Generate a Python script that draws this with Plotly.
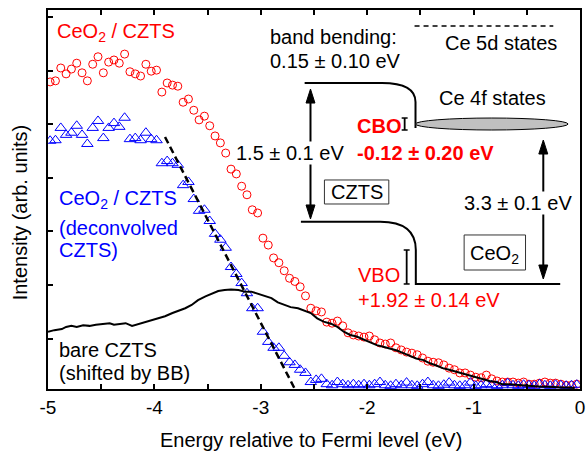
import plotly.graph_objects as go

# ---------------- data ----------------
energy = [-4.98, -4.93, -4.88, -4.83, -4.78, -4.73, -4.68, -4.63, -4.58, -4.53,
          -4.48, -4.43, -4.38, -4.33, -4.28, -4.23, -4.18, -4.13, -4.08, -4.03,
          -3.98, -3.93, -3.88, -3.83, -3.78, -3.73, -3.68, -3.63, -3.58, -3.53,
          -3.48, -3.43, -3.38, -3.33, -3.28, -3.23, -3.18, -3.13, -3.08, -3.03,
          -2.98, -2.93, -2.88, -2.83, -2.78, -2.73, -2.68, -2.63, -2.58, -2.53,
          -2.48, -2.43, -2.38, -2.33, -2.28, -2.23, -2.18, -2.13, -2.08, -2.03,
          -1.98, -1.93, -1.88, -1.83, -1.78, -1.73, -1.68, -1.63, -1.58, -1.53,
          -1.48, -1.43, -1.38, -1.33, -1.28, -1.23, -1.18, -1.13, -1.08, -1.03,
          -0.98, -0.93, -0.88, -0.83, -0.78, -0.73, -0.68, -0.63, -0.58, -0.53,
          -0.48, -0.43, -0.38, -0.33, -0.28, -0.23, -0.18, -0.13, -0.08, -0.03]

ceo2_czts = [5.74, 5.76, 6.00, 5.89, 5.98, 6.09, 5.91, 5.76, 6.07, 6.21,
             5.91, 6.11, 6.15, 6.09, 6.26, 5.93, 5.89, 5.85, 6.07, 5.94,
             5.96, 5.55, 5.72, 5.68, 5.66, 5.36, 5.42, 5.21, 5.03, 5.10,
             4.92, 4.73, 4.60, 4.41, 4.11, 4.02, 3.79, 3.63, 3.35, 3.29,
             2.82, 2.69, 2.45, 2.36, 2.21, 2.07, 2.01, 1.91, 1.74, 1.51,
             1.46, 1.44, 1.25, 1.23, 1.27, 1.18, 1.05, 1.01, 0.99, 0.97,
             0.99, 0.92, 0.86, 0.84, 0.86, 0.77, 0.73, 0.69, 0.67, 0.64,
             0.58, 0.52, 0.50, 0.49, 0.45, 0.39, 0.36, 0.30, 0.30, 0.26,
             0.22, 0.21, 0.26, 0.19, 0.15, 0.13, 0.13, 0.13, 0.11, 0.13,
             0.09, 0.09, 0.11, 0.13, 0.11, 0.11, 0.09, 0.07, 0.07, 0.09]

deconvolved = [4.64, 4.65, 4.88, 4.75, 4.79, 4.92, 4.75, 4.58, 4.88, 5.01,
               4.69, 4.88, 4.97, 4.90, 5.07, 4.67, 4.69, 4.65, 4.79, 4.67,
               4.65, 4.22, 4.26, 4.22, 4.19, 3.81, 3.87, 3.55, 3.33, 3.35,
               3.14, 2.90, 2.79, 2.64, 2.28, 2.15, 1.98, 1.79, 1.51, 1.51,
               1.07, 0.88, 0.77, 0.77, 0.62, 0.50, 0.45, 0.36, 0.30, 0.13,
               0.17, 0.19, 0.09, 0.07, 0.13, 0.09, 0.07, 0.09, 0.07, 0.09,
               0.07, 0.09, 0.13, 0.07, 0.06, 0.09, 0.07, 0.12, 0.07, 0.06,
               0.09, 0.13, 0.07, 0.06, 0.08, 0.12, 0.07, 0.06, 0.07, 0.12,
               0.06, 0.07, 0.09, 0.07, 0.06, 0.07, 0.11, 0.07, 0.06, 0.08,
               0.07, 0.06, 0.09, 0.07, 0.06, 0.08, 0.07, 0.06, 0.07, 0.08]

bare_energy = [-5.00, -4.94, -4.87, -4.83, -4.78, -4.73, -4.67, -4.61, -4.55, -4.49,
               -4.42, -4.38, -4.33, -4.27, -4.21, -4.14, -4.08, -4.02, -3.96, -3.90,
               -3.83, -3.77, -3.71, -3.65, -3.59, -3.52, -3.46, -3.40, -3.34, -3.28,
               -3.21, -3.15, -3.09, -3.03, -2.96, -2.90, -2.84, -2.78, -2.72, -2.65,
               -2.59, -2.53, -2.47, -2.41, -2.34, -2.28, -2.22, -2.16, -2.10, -2.03,
               -1.97, -1.91, -1.85, -1.79, -1.72, -1.66, -1.60, -1.54, -1.47, -1.41,
               -1.35, -1.29, -1.23, -1.16, -1.10, -1.04, -0.98, -0.92, -0.85, -0.79,
               -0.73, -0.67, -0.61, -0.54, -0.48, -0.42, -0.36, -0.30, -0.23, -0.17,
               -0.11, -0.05]
bare_czts = [1.07, 1.10, 1.12, 1.16, 1.18, 1.16, 1.19, 1.18, 1.20, 1.21,
             1.23, 1.20, 1.22, 1.23, 1.18, 1.22, 1.26, 1.29, 1.32, 1.36,
             1.42, 1.46, 1.51, 1.57, 1.66, 1.73, 1.78, 1.83, 1.85, 1.86,
             1.85, 1.82, 1.82, 1.78, 1.74, 1.70, 1.62, 1.57, 1.53, 1.51,
             1.46, 1.42, 1.32, 1.26, 1.22, 1.16, 1.07, 1.01, 0.98, 0.92,
             0.88, 0.82, 0.79, 0.76, 0.72, 0.67, 0.62, 0.57, 0.54, 0.48,
             0.44, 0.39, 0.36, 0.32, 0.29, 0.25, 0.22, 0.19, 0.15, 0.13,
             0.09, 0.09, 0.08, 0.06, 0.06, 0.04, 0.04, 0.04, 0.03, 0.03,
             0.03, 0.02]

fit_energy = [-3.90, -2.68]
fit_intensity = [4.71, 0.0]

x_tick_vals = [-5, -4, -3, -2, -1, 0]
x_tick_text = ["-5", "-4", "-3", "-2", "-1", "0"]
y_tick_vals = [0.944, 1.944, 2.944, 3.944, 4.944, 5.944, 6.944]

X_RANGE = [-5, 0]
Y_RANGE = [0, 7.084]

RED = "#ff0000"
BLUE = "#0000ff"
FONT = "Liberation Sans, Arial, sans-serif"
FS = 20

fig = go.Figure()
fig.add_trace(go.Scatter(x=energy, y=ceo2_czts, mode="markers",
                         marker=dict(symbol="circle-open", size=8, color=RED, line=dict(width=1)),
                         showlegend=False))
fig.add_trace(go.Scatter(x=energy, y=deconvolved, mode="markers",
                         marker=dict(symbol="triangle-up-open", size=10, color=BLUE, line=dict(width=1)),
                         showlegend=False))
fig.add_trace(go.Scatter(x=bare_energy, y=bare_czts, mode="lines",
                         line=dict(color="black", width=2), showlegend=False))
fig.add_trace(go.Scatter(x=fit_energy, y=fit_intensity, mode="lines",
                         line=dict(color="black", width=2.5, dash="7px,4px"), showlegend=False))

shapes = []
LINE = dict(color="black", width=2)
# CZTS conduction band with bending
shapes.append(dict(type="path", xref="x", yref="y", line=LINE,
                   path="M -2.588,5.720 L -1.862,5.720 Q -1.546,5.720 -1.546,5.364 L -1.546,4.879"))
# CZTS valence band with bending, then CeO2 valence band
shapes.append(dict(type="path", xref="x", yref="y", line=LINE,
                   path="M -2.623,3.127 L -1.878,3.127 Q -1.543,3.127 -1.543,2.598 L -1.543,1.963 L -0.186,1.963"))
# Ce 4f states ellipse
shapes.append(dict(type="circle", xref="x", yref="y", x0=-1.546, x1=-0.112, y0=4.841, y1=5.065,
                   fillcolor="#c0c0c0", line=dict(color="black", width=1)))
# Ce 5d dashed line
shapes.append(dict(type="line", xref="x", yref="y", x0=-1.555, x1=-0.251, y0=6.785, y1=6.785,
                   line=dict(color="black", width=1.5, dash="5px,4px")))


def ebar(x, y0, y1, w=0.028):
    return [dict(type="line", xref="x", yref="y", x0=x, x1=x, y0=y0, y1=y1, line=dict(color="black", width=1.8)),
            dict(type="line", xref="x", yref="y", x0=x - w, x1=x + w, y0=y0, y1=y0, line=dict(color="black", width=1.5)),
            dict(type="line", xref="x", yref="y", x0=x - w, x1=x + w, y0=y1, y1=y1, line=dict(color="black", width=1.5))]


shapes += ebar(-1.648, 4.841, 5.065)
shapes += ebar(-1.629, 1.963, 2.598)

HW = 0.042   # arrow head half-width (eV)
HL = 0.262   # arrow head length (intensity units)


def arrow(x, ytop, ybot):
    out = [dict(type="line", xref="x", yref="y", x0=x, x1=x, y0=ybot + HL * 0.5, y1=ytop - HL * 0.5,
                line=dict(color="black", width=2))]
    out.append(dict(type="path", xref="x", yref="y", fillcolor="black", line=dict(color="black", width=1),
                    path=f"M {x},{ytop} L {x - HW},{ytop - HL} L {x + HW},{ytop - HL} Z"))
    out.append(dict(type="path", xref="x", yref="y", fillcolor="black", line=dict(color="black", width=1),
                    path=f"M {x},{ybot} L {x - HW},{ybot + HL} L {x + HW},{ybot + HL} Z"))
    return out


shapes += arrow(-2.533, 5.607, 3.178)
shapes += arrow(-0.345, 4.654, 2.056)

# boxes
shapes.append(dict(type="rect", xref="x", yref="y", x0=-2.402, x1=-1.797, y0=3.458, y1=3.907,
                   line=dict(color="#333333", width=1)))
shapes.append(dict(type="rect", xref="x", yref="y", x0=-1.089, x1=-0.512, y0=2.224, y1=2.879,
                   line=dict(color="#333333", width=1)))

ann = []


def txt(x, y, s, color="black", xanchor="left", bold=False, bg=None, size=FS):
    d = dict(x=x, y=y, xref="x", yref="y", text=(f"<b>{s}</b>" if bold else s), showarrow=False,
             xanchor=xanchor, yanchor="middle", font=dict(family=FONT, size=size, color=color))
    if bg:
        d.update(bgcolor=bg, borderpad=0)
    ann.append(d)


txt(-4.935, 6.66, "CeO<sub>2</sub> / CZTS", RED)
txt(-4.916, 3.54, "CeO<sub>2</sub> / CZTS", BLUE)
txt(-4.916, 3.009, "(deconvolved", BLUE)
txt(-4.916, 2.598, "CZTS)", BLUE)
txt(-4.916, 0.729, "bare CZTS")
txt(-4.916, 0.299, "(shifted by BB)")
txt(-2.933, 6.579, "band bending:")
txt(-2.933, 6.131, "0.15 ± 0.10 eV")
txt(-1.285, 6.467, "Ce 5d states")
txt(-1.341, 5.439, "Ce 4f states")
txt(-2.114, 4.916, "CBO", RED, bold=True)
txt(-2.114, 4.411, "-0.12 ± 0.20 eV", RED, bold=True)
txt(-2.104, 2.131, "VBO", RED)
txt(-2.104, 1.664, "+1.92 ± 0.14 eV", RED)
txt(-2.727, 4.411, "1.5 ± 0.1 eV", xanchor="center", bg="white")
txt(-0.587, 3.477, "3.3 ± 0.1 eV", xanchor="center", bg="white")
txt(-2.095, 3.682, "CZTS", xanchor="center")
txt(-0.801, 2.52, "CeO<sub>2</sub>", xanchor="center")

ann.append(dict(x=0.4935, y=-0.1346, xref="paper", yref="paper", text="Energy relative to Fermi level (eV)",
                showarrow=False, xanchor="center", yanchor="middle", font=dict(family=FONT, size=FS, color="black")))
ann.append(dict(x=-0.052, y=0.467, xref="paper", yref="paper", text="Intensity (arb. units)", textangle=-90,
                showarrow=False, xanchor="center", yanchor="middle", font=dict(family=FONT, size=FS, color="black")))

fig.update_layout(
    width=586, height=452,
    margin=dict(l=48, r=1, t=10, b=63),
    paper_bgcolor="white", plot_bgcolor="white",
    font=dict(family=FONT, size=19, color="black"),
    shapes=shapes, annotations=ann, showlegend=False,
    xaxis=dict(range=X_RANGE, tickmode="array", tickvals=x_tick_vals, ticktext=x_tick_text,
               ticks="inside", ticklen=5, tickwidth=1.5, tickcolor="black",
               showline=True, linecolor="black", linewidth=2, mirror="ticks",
               ticklabeloverflow="allow",
               showgrid=False, zeroline=False, tickfont=dict(size=19),
               minor=dict(tickmode="linear", tick0=-5, dtick=0.5, ticks="inside", ticklen=5,
                          tickwidth=1.5, tickcolor="black", showgrid=False)),
    yaxis=dict(range=Y_RANGE, tickmode="array", tickvals=y_tick_vals, showticklabels=False,
               ticks="inside", ticklen=5, tickwidth=1.5, tickcolor="black",
               showline=True, linecolor="black", linewidth=2, mirror=True,
               showgrid=False, zeroline=False),
)

fig.write_html("out.html")
